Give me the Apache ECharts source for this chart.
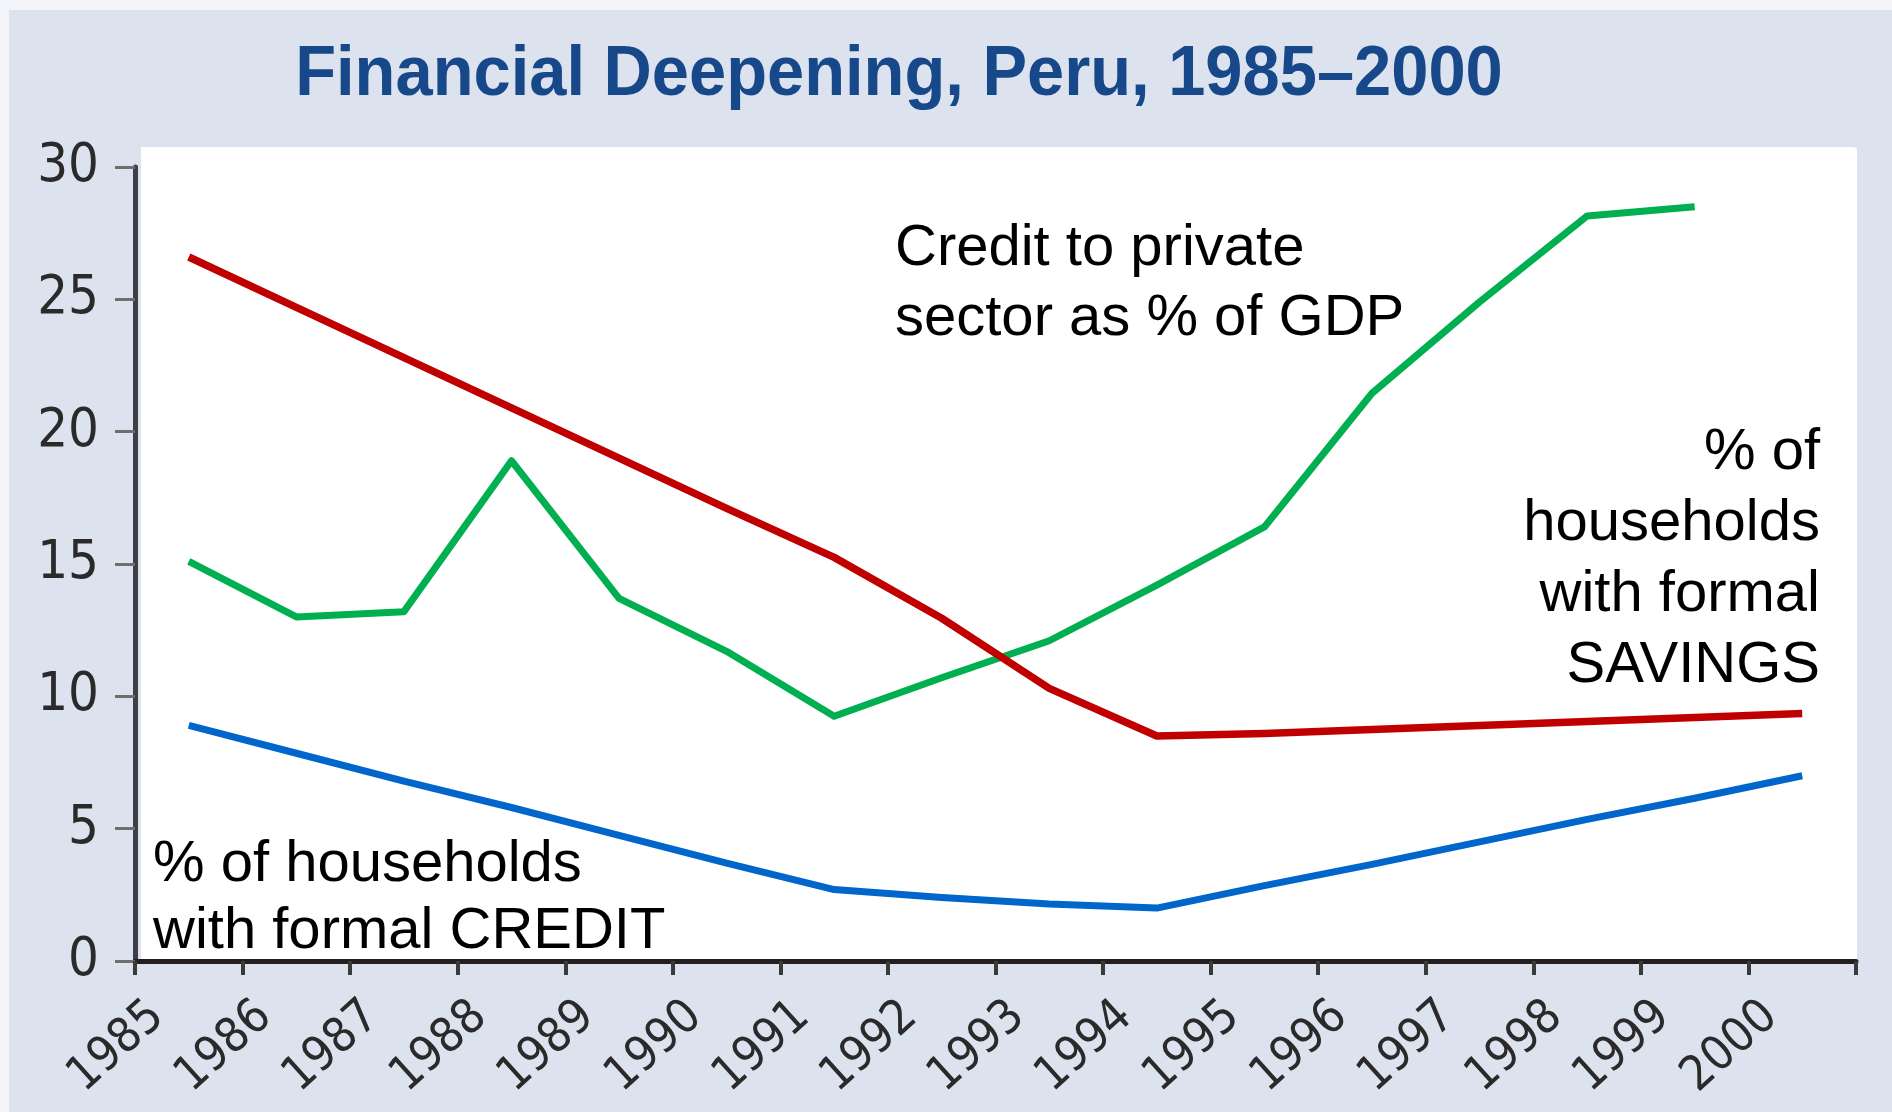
<!DOCTYPE html>
<html>
<head>
<meta charset="utf-8">
<title>Financial Deepening, Peru, 1985–2000</title>
<script src="https://cdn.jsdelivr.net/npm/echarts@6.0.0/dist/echarts.min.js"></script>
<style>
  html, body { margin: 0; padding: 0; background: #dde3ee; }
  #chart { width: 1892px; height: 1112px; }
</style>
</head>
<body>
<div id="chart"></div>
<script>
// Years on the category axis
const years = ['1985', '1986', '1987', '1988', '1989', '1990', '1991', '1992',
               '1993', '1994', '1995', '1996', '1997', '1998', '1999', '2000'];

// Credit to private sector as % of GDP (no 2000 value)
const privateCredit = [15.1, 13.0, 13.2, 18.9, 13.7, 11.7, 9.25, 10.7,
                       12.1, 14.2, 16.4, 21.45, 24.9, 28.15, 28.5, null];

// % of households with formal savings
const householdSavings = [26.6, 24.7, 22.8, 20.9, 19.0, 17.1, 15.25, 12.95,
                          10.3, 8.5, 8.6, 8.75, 8.9, 9.05, 9.2, 9.35];

// % of households with formal credit
const householdCredit = [8.9, 7.85, 6.8, 5.8, 4.75, 3.7, 2.7, 2.4,
                         2.15, 2.0, 2.85, 3.65, 4.5, 5.35, 6.15, 7.0];

const narrowFont = "'Liberation Sans Narrow', 'Arial Narrow', 'DejaVu Sans Condensed', sans-serif";
const bodyFont = "'Liberation Sans', Arial, sans-serif";

const chart = echarts.init(document.getElementById('chart'), null, { renderer: 'canvas' });

const option = {
  backgroundColor: '#dde3ee',
  animation: false,
  grid: { left: 135, right: 36, top: 167, bottom: 151 },
  xAxis: {
    type: 'category',
    data: years,
    boundaryGap: true,
    axisLine: { show: true, lineStyle: { color: '#231f20', width: 5 } },
    axisTick: { show: true, interval: 0, length: 14, lineStyle: { color: '#3a3a3a', width: 4 } },
    axisLabel: {
      interval: 0,
      rotate: 42,
      margin: 21,
      padding: [0, 42, 0, 0],
      fontFamily: narrowFont,
      fontSize: 48,
      color: '#2a2a2a'
    },
    splitLine: { show: false }
  },
  yAxis: {
    type: 'value',
    min: 0,
    max: 30,
    interval: 5,
    axisLine: { show: true, lineStyle: { color: '#3c3f45', width: 5 } },
    axisTick: { show: true, length: 20, lineStyle: { color: '#6e6e6e', width: 3 } },
    axisLabel: { margin: 36, fontFamily: narrowFont, fontSize: 54, color: '#2a2a2a' },
    splitLine: { show: false }
  },
  graphic: [
    // thin light border strips along the top and left edges
    { type: 'rect', z: -2, shape: { x: 0, y: 0, width: 1892, height: 10 }, style: { fill: '#f3f5f9' } },
    { type: 'rect', z: -2, shape: { x: 0, y: 0, width: 9, height: 1112 }, style: { fill: '#f3f5f9' } },
    // white plotting panel
    { type: 'rect', z: -1, shape: { x: 141, y: 147, width: 1716, height: 812, r: [0, 4, 0, 0] }, style: { fill: '#ffffff' } },
    // chart title
    {
      type: 'text', z: 100, x: 899, y: 76, scaleX: 0.955,
      style: {
        text: 'Financial Deepening, Peru, 1985–2000',
        fontFamily: bodyFont, fontWeight: 'bold', fontSize: 70,
        fill: '#17498a', align: 'center', verticalAlign: 'middle'
      }
    },
    {
      type: 'text', z: 100, x: 895, y: 214,
      style: {
        text: 'Credit to private\nsector as % of GDP',
        fontFamily: bodyFont, fontSize: 58, lineHeight: 70,
        fill: '#000000', align: 'left', verticalAlign: 'top'
      }
    },
    {
      type: 'text', z: 100, x: 1820, y: 417,
      style: {
        text: '% of\nhouseholds\nwith formal\nSAVINGS',
        fontFamily: bodyFont, fontSize: 58, lineHeight: 71,
        fill: '#000000', align: 'right', verticalAlign: 'top'
      }
    },
    {
      type: 'text', z: 100, x: 153, y: 831,
      style: {
        text: '% of households\nwith formal CREDIT',
        fontFamily: bodyFont, fontSize: 58, lineHeight: 67,
        fill: '#000000', align: 'left', verticalAlign: 'top'
      }
    }
  ],
  series: [
    {
      name: '% of households with formal CREDIT',
      type: 'line', data: householdCredit, symbol: 'none', z: 3,
      lineStyle: { color: '#0066cc', width: 7, join: 'round' }
    },
    {
      name: 'Credit to private sector as % of GDP',
      type: 'line', data: privateCredit, symbol: 'none', z: 4,
      lineStyle: { color: '#00b050', width: 7, join: 'round' }
    },
    {
      name: '% of households with formal SAVINGS',
      type: 'line', data: householdSavings, symbol: 'none', z: 5,
      lineStyle: { color: '#c00000', width: 7.5, join: 'round' }
    }
  ]
};

chart.setOption(option);
</script>
</body>
</html>
